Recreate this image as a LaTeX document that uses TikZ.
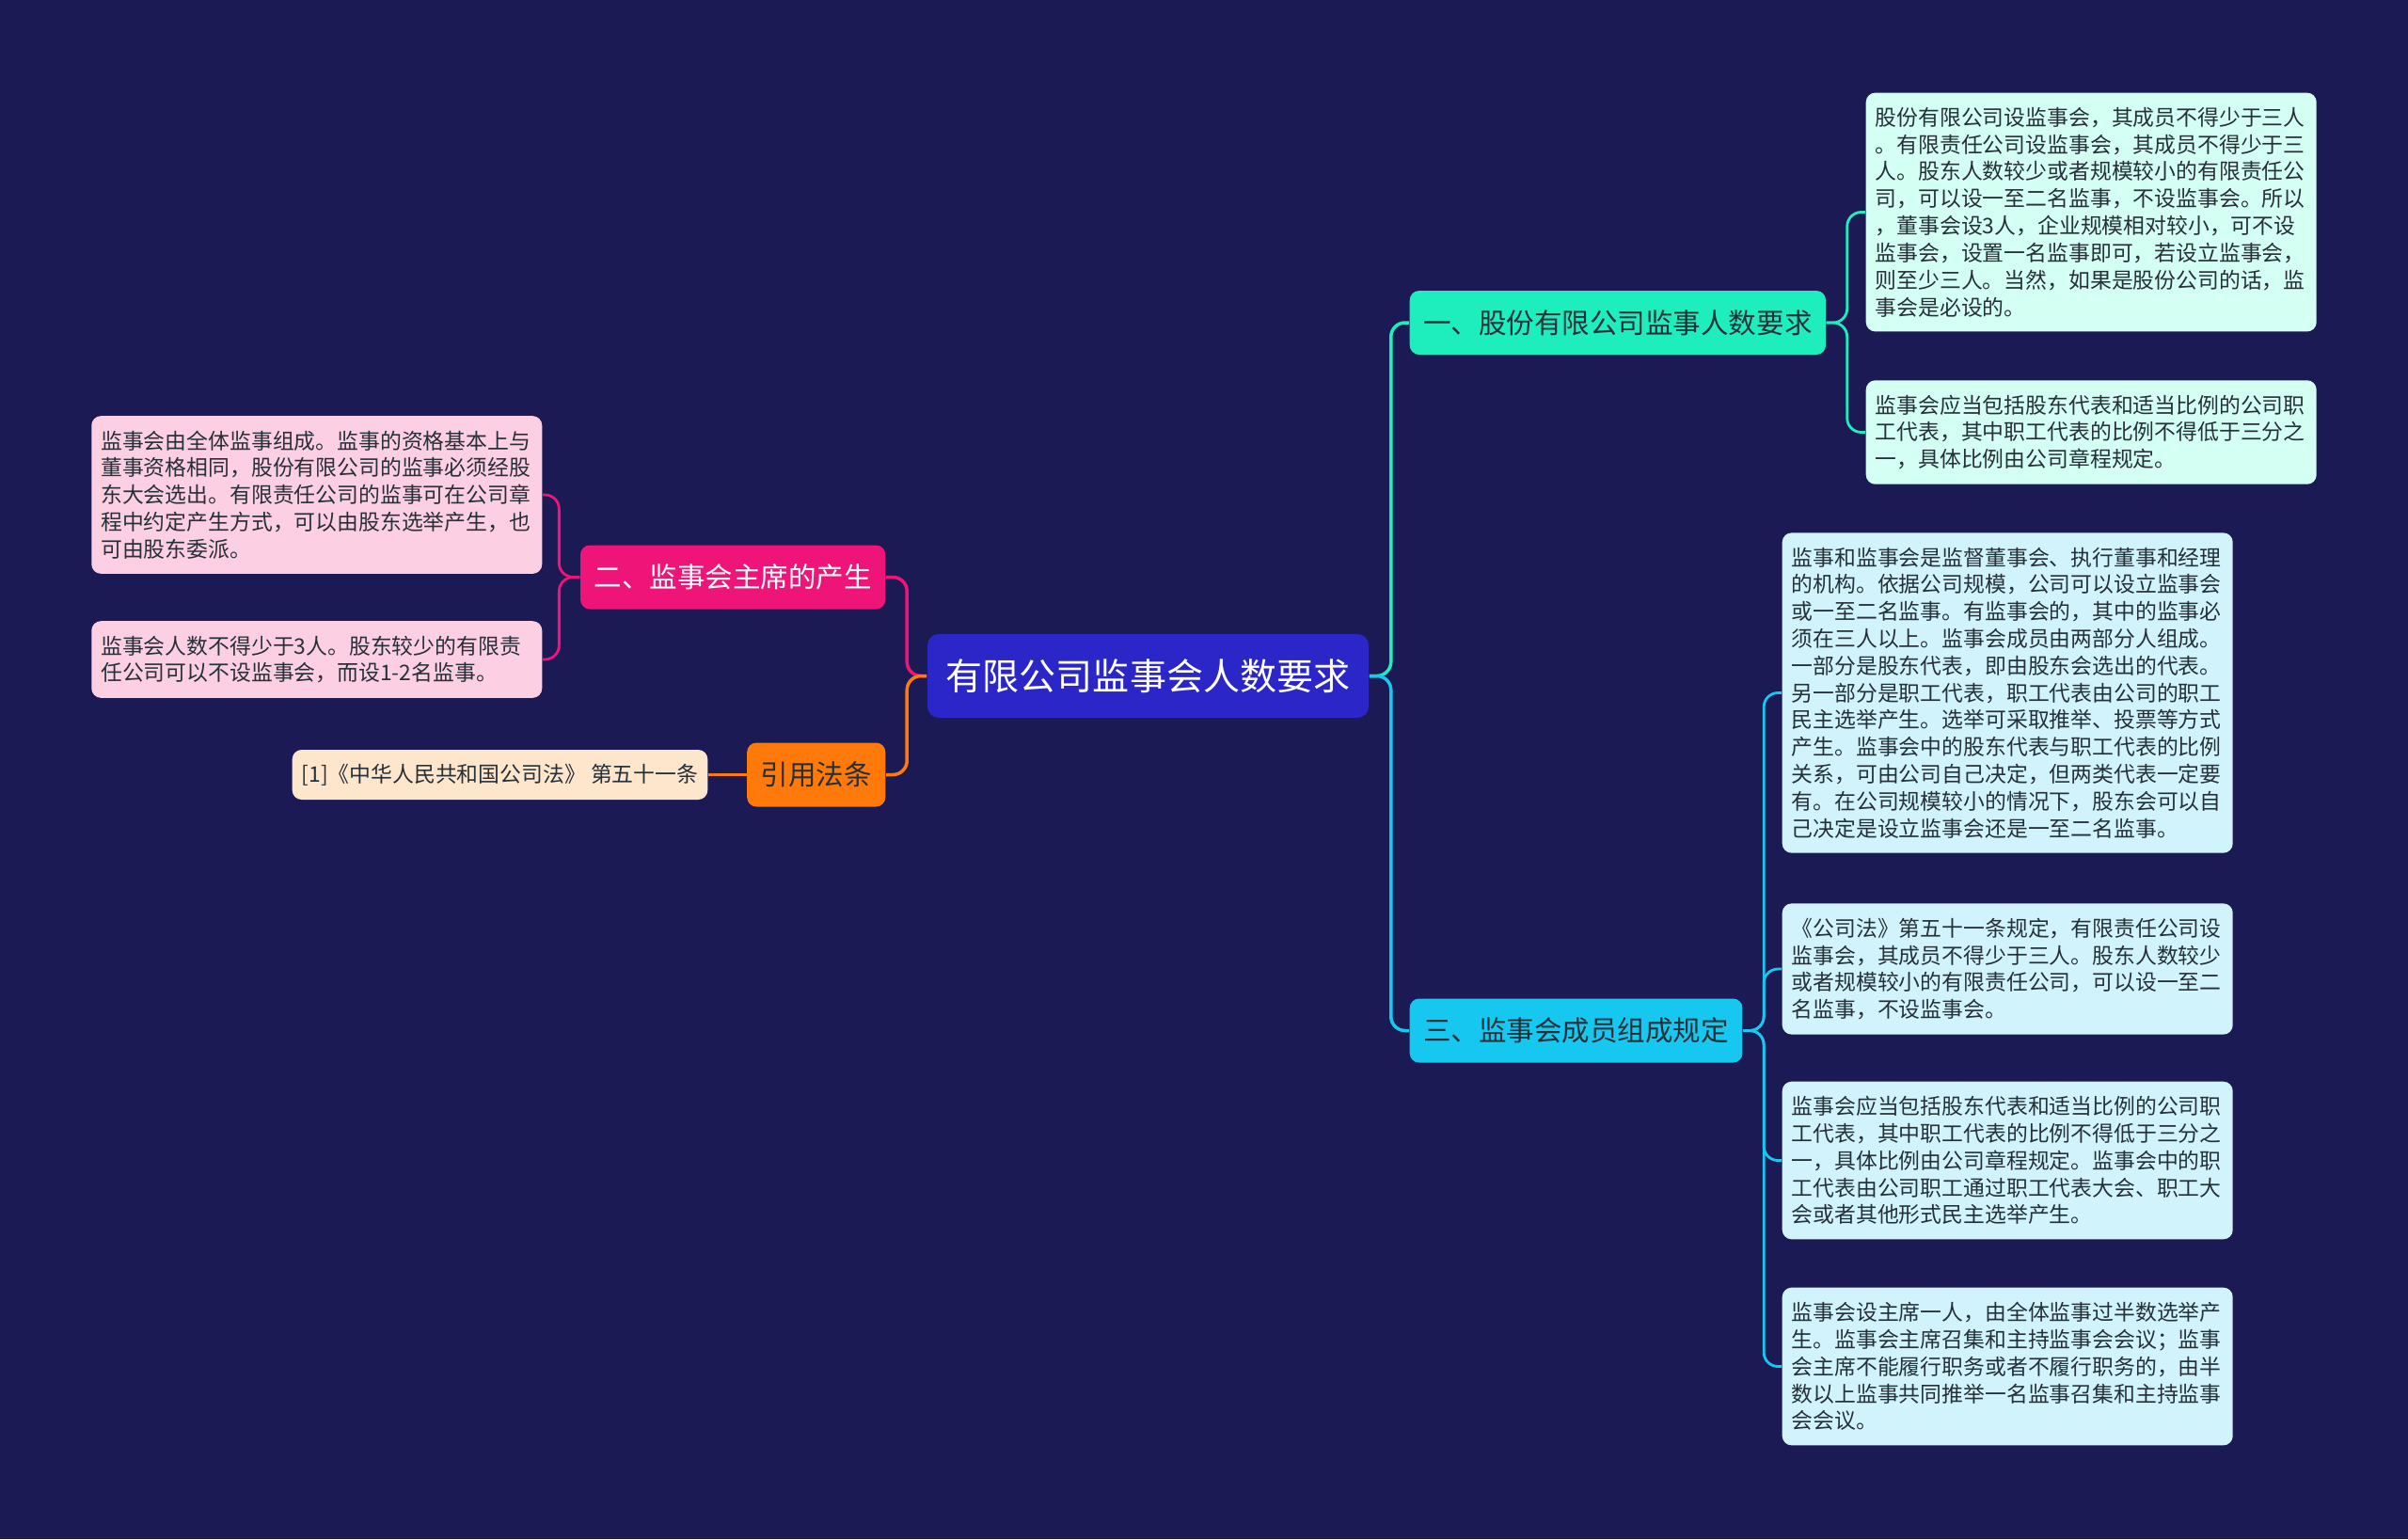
\documentclass[tikz,border=0pt]{standalone}
\usepackage{fontspec}
\setmainfont{Noto Sans CJK SC}
\usepackage{tikz}
\usetikzlibrary{positioning}

\definecolor{bg}{RGB}{27,26,84}
\definecolor{topicblue}{RGB}{42,38,200}
\definecolor{mint}{RGB}{30,238,190}
\definecolor{mintleaf}{RGB}{212,255,243}
\definecolor{sky}{RGB}{22,200,240}
\definecolor{skyleaf}{RGB}{209,244,252}
\definecolor{rose}{RGB}{238,20,120}
\definecolor{roseleaf}{RGB}{252,208,226}
\definecolor{amber}{RGB}{255,122,10}
\definecolor{amberleaf}{RGB}{254,230,205}
\definecolor{ink}{RGB}{38,48,56}

\begin{document}
\begin{tikzpicture}[font=\fontsize{6.5}{8.2}\selectfont,
      topic/.style={fill=topicblue, text=white, rounded corners=0.12cm, inner xsep=0.2cm, minimum height=0.89cm, font=\fontsize{11.1}{13}\selectfont},
      branch/.style={rounded corners=0.1cm, inner xsep=0.145cm, minimum height=0.68cm, text=ink, font=\fontsize{8.4}{10}\selectfont},
      leaf/.style={rounded corners=0.1cm, align=left, text width=4.59cm, inner xsep=0.1cm, inner ysep=0.155cm, text=ink},
      refbox/.style={rounded corners=0.1cm, inner xsep=0.1cm, minimum height=0.53cm, text=ink},
      link/.style={line width=1pt, rounded corners=0.15cm},
      twig/.style={line width=0.8pt, rounded corners=0.15cm}]
    \fill[bg] (0,0) rectangle (25.6,-16.36);
    % --- centre ---
    \node[topic] (topic) at (12.205,-7.185) {有限公司监事会人数要求};
    % --- right: branch one ---
    \node[branch, fill=mint, anchor=west] (stock) at (14.98,-3.43) {一、股份有限公司监事人数要求};
    \node[leaf, fill=mintleaf, anchor=west] (stockA) at (19.83,-2.255) {股份有限公司设监事会，其成员不得少于三人\\
      。有限责任公司设监事会，其成员不得少于三\\
      人。股东人数较少或者规模较小的有限责任公\\
      司，可以设一至二名监事，不设监事会。所以\\
      ，董事会设3人，企业规模相对较小，可不设\\
      监事会，设置一名监事即可，若设立监事会，\\
      则至少三人。当然，如果是股份公司的话，监\\
      事会是必设的。};
    \node[leaf, fill=mintleaf, anchor=west] (stockB) at (19.83,-4.595) {监事会应当包括股东代表和适当比例的公司职\\
      工代表，其中职工代表的比例不得低于三分之\\
      一，具体比例由公司章程规定。};
    \draw[link, mint] (topic.east) -- ++(0.23,0) |- (stock.west);
    \draw[twig, mint] (stock.east) -- ++(0.22,0) |- (stockA.west);
    \draw[twig, mint] (stock.east) -- ++(0.22,0) |- (stockB.west);
    % --- right: branch three ---
    \node[branch, fill=sky, anchor=west] (member) at (14.98,-10.955) {三、监事会成员组成规定};
    \node[leaf, fill=skyleaf, anchor=west] (memA) at (18.94,-7.365) {监事和监事会是监督董事会、执行董事和经理\\
      的机构。依据公司规模，公司可以设立监事会\\
      或一至二名监事。有监事会的，其中的监事必\\
      须在三人以上。监事会成员由两部分人组成。\\
      一部分是股东代表，即由股东会选出的代表。\\
      另一部分是职工代表，职工代表由公司的职工\\
      民主选举产生。选举可采取推举、投票等方式\\
      产生。监事会中的股东代表与职工代表的比例\\
      关系，可由公司自己决定，但两类代表一定要\\
      有。在公司规模较小的情况下，股东会可以自\\
      己决定是设立监事会还是一至二名监事。};
    \node[leaf, fill=skyleaf, anchor=west] (memB) at (18.94,-10.30) {《公司法》第五十一条规定，有限责任公司设\\
      监事会，其成员不得少于三人。股东人数较少\\
      或者规模较小的有限责任公司，可以设一至二\\
      名监事，不设监事会。};
    \node[leaf, fill=skyleaf, anchor=west] (memC) at (18.94,-12.335) {监事会应当包括股东代表和适当比例的公司职\\
      工代表，其中职工代表的比例不得低于三分之\\
      一，具体比例由公司章程规定。监事会中的职\\
      工代表由公司职工通过职工代表大会、职工大\\
      会或者其他形式民主选举产生。};
    \node[leaf, fill=skyleaf, anchor=west] (memD) at (18.94,-14.525) {监事会设主席一人，由全体监事过半数选举产\\
      生。监事会主席召集和主持监事会会议；监事\\
      会主席不能履行职务或者不履行职务的，由半\\
      数以上监事共同推举一名监事召集和主持监事\\
      会会议。};
    \draw[link, sky] (topic.east) -- ++(0.23,0) |- (member.west);
    \draw[twig, sky] (member.east) -- ++(0.22,0) |- (memA.west);
    \draw[twig, sky] (member.east) -- ++(0.22,0) |- (memB.west);
    \draw[twig, sky] (member.east) -- ++(0.22,0) |- (memC.west);
    \draw[twig, sky] (member.east) -- ++(0.22,0) |- (memD.west);
    % --- left: branch two ---
    \node[branch, fill=rose, text=white, anchor=east] (chair) at (9.42,-6.135) {二、监事会主席的产生};
    \node[leaf, fill=roseleaf, anchor=east] (chairA) at (5.77,-5.26) {监事会由全体监事组成。监事的资格基本上与\\
      董事资格相同，股份有限公司的监事必须经股\\
      东大会选出。有限责任公司的监事可在公司章\\
      程中约定产生方式，可以由股东选举产生，也\\
      可由股东委派。};
    \node[leaf, fill=roseleaf, anchor=east] (chairB) at (5.77,-7.01) {监事会人数不得少于3人。股东较少的有限责\\
      任公司可以不设监事会，而设1-2名监事。};
    \draw[link, rose] (topic.west) -- ++(-0.21,0) |- (chair.east);
    \draw[twig, rose] (chair.west) -- ++(-0.22,0) |- (chairA.east);
    \draw[twig, rose] (chair.west) -- ++(-0.22,0) |- (chairB.east);
    % --- left: cited law ---
    \node[branch, fill=amber, anchor=east] (law) at (9.42,-8.235) {引用法条};
    \node[refbox, fill=amberleaf, anchor=east] (lawref) at (7.53,-8.235) {[1]《中华人民共和国公司法》 第五十一条};
    \draw[link, amber] (topic.west) -- ++(-0.21,0) |- (law.east);
    \draw[twig, amber] (law.west) -- (lawref.east);
  \end{tikzpicture}
\end{document}
